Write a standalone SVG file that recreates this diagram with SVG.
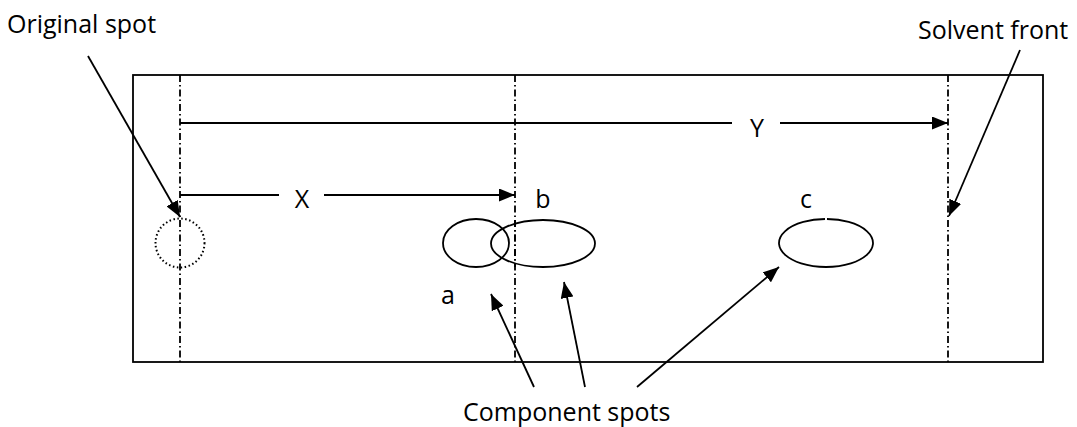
<svg xmlns="http://www.w3.org/2000/svg" width="1077" height="427" viewBox="0 0 1077 427">
<defs>
<marker id="ah" viewBox="0 0 16 13" refX="16" refY="6.5" markerWidth="16" markerHeight="13" markerUnits="userSpaceOnUse" orient="auto">
<path d="M0,0 L16,6.5 L0,13 z" fill="#000"/>
</marker>
<style>
.lbl{font-family:"Open Sans","Liberation Sans",sans-serif;font-size:25px;fill:#000}
.ln{stroke:#000;stroke-width:1.8;fill:none}
.dd{stroke:#000;stroke-width:1.8;fill:none;stroke-dasharray:7 3 1.5 3}
.arr{stroke:#000;stroke-width:1.8;fill:none;marker-end:url(#ah)}
.spot{stroke:#000;stroke-width:1.8;fill:none}
</style>
</defs>
<rect width="1077" height="427" fill="#fff"/>
<g id="plate">
<rect x="133" y="75" width="910" height="287" class="ln"/>
</g>
<g id="guides">
<line x1="180" y1="75" x2="180" y2="362" class="dd"/>
<line x1="515" y1="75" x2="515" y2="362" class="dd"/>
<line x1="948" y1="75" x2="948" y2="362" class="dd"/>
</g>
<g id="original-spot">
<circle cx="180" cy="243" r="24.5" fill="none" stroke="#000" stroke-width="2" stroke-dasharray="1.5 2.5"/>
<text class="lbl" x="7" y="33">Original spot</text>
</g>
<g id="spot-a">
<ellipse cx="476" cy="243" rx="33" ry="24" class="spot"/>
<text class="lbl" x="448" y="304" text-anchor="middle">a</text>
</g>
<g id="spot-b">
<ellipse cx="543" cy="243.5" rx="52" ry="23.5" fill="#fff" class="spot"/>
<line x1="515" y1="220" x2="515" y2="267" class="dd"/>
<text class="lbl" x="543" y="208" text-anchor="middle">b</text>
</g>
<g id="spot-c">
<path d="M827,219.01 A47,24 0 1 1 825,219.01" class="spot"/>
<text class="lbl" x="806" y="208" text-anchor="middle">c</text>
</g>
<g id="solvent-front">
<text class="lbl" x="918" y="39">Solvent front</text>
</g>
<g id="component-spots">
<text class="lbl" x="463" y="421">Component spots</text>
</g>
<g id="distance-X">
<text class="lbl" x="302" y="208" text-anchor="middle">X</text>
</g>
<g id="distance-Y">
<text class="lbl" x="757" y="137" text-anchor="middle">Y</text>
</g>
<g id="connectors">
<line x1="180" y1="123" x2="732" y2="123" class="ln"/>
<line x1="780" y1="123" x2="948" y2="123" class="arr"/>
<line x1="180" y1="195" x2="279" y2="195" class="ln"/>
<line x1="324" y1="195" x2="515" y2="195" class="arr"/>
<line x1="88" y1="56" x2="180" y2="217" class="arr"/>
<line x1="1020" y1="50" x2="949" y2="216" class="arr"/>
<line x1="534" y1="387" x2="491" y2="294" class="arr"/>
<line x1="585" y1="387" x2="564" y2="282" class="arr"/>
<line x1="637" y1="387" x2="779" y2="267" class="arr"/>
</g>
</svg>
